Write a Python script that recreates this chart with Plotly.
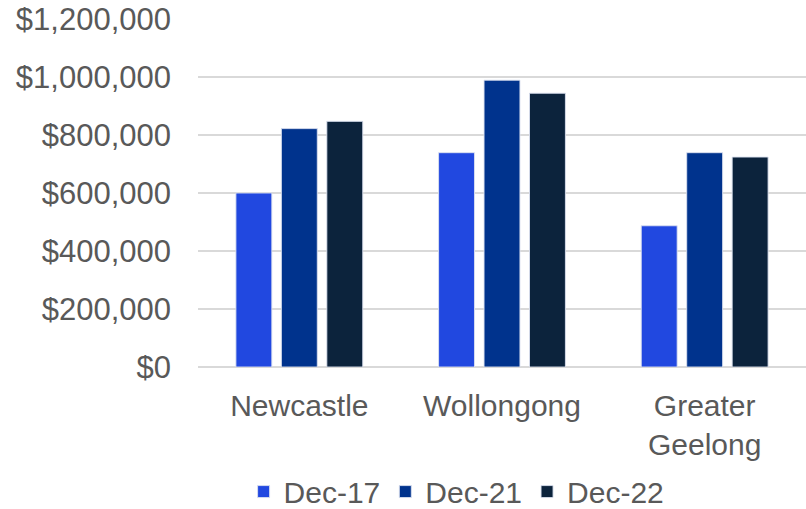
import plotly.graph_objects as go

categories = ["Newcastle", "Wollongong", "Greater<br>Geelong"]
series_names = ["Dec-17", "Dec-21", "Dec-22"]
dec17 = [600000, 739000, 487000]
dec21 = [822000, 989000, 739000]
dec22 = [847000, 944000, 724000]
colors = ["#2148E0", "#00338D", "#0C233C"]
tick_vals = [0, 200000, 400000, 600000, 800000, 1000000, 1200000]
tick_text = ["$0", "$200,000", "$400,000", "$600,000", "$800,000", "$1,000,000", "$1,200,000"]

fig = go.Figure()
for name, vals, c in zip(series_names, [dec17, dec21, dec22], colors):
    fig.add_trace(go.Bar(
        x=categories, y=vals, name=name,
        marker=dict(color=c, line=dict(color="rgba(220,225,240,0.9)", width=1)),
    ))

font = "Liberation Sans, Arial, sans-serif"
fig.update_layout(
    width=806, height=509,
    margin=dict(l=198, r=0, t=19, b=142, autoexpand=False),
    paper_bgcolor="white", plot_bgcolor="white",
    barmode="group", bargap=0.327, bargroupgap=0.21,
    font=dict(family=font, size=31, color="#595959"),
    showlegend=True,
    legend=dict(orientation="h", x=0.075, xanchor="left", y=-0.358, yanchor="middle",
                font=dict(size=30, color="#595959"), itemwidth=30, traceorder="normal"),
    xaxis=dict(showline=False, showgrid=False, tickfont=dict(size=30), ticklabelstandoff=18,
               automargin=False),
    yaxis=dict(range=[0, 1200000], tickvals=tick_vals, ticktext=tick_text,
               showgrid=True, gridcolor="#D9D9D9", gridwidth=1.5, zeroline=True,
               zerolinecolor="#D9D9D9", zerolinewidth=1.5, showline=False,
               tickfont=dict(size=31), ticklabelstandoff=26, automargin=False),
)

fig.write_html("out.html")
